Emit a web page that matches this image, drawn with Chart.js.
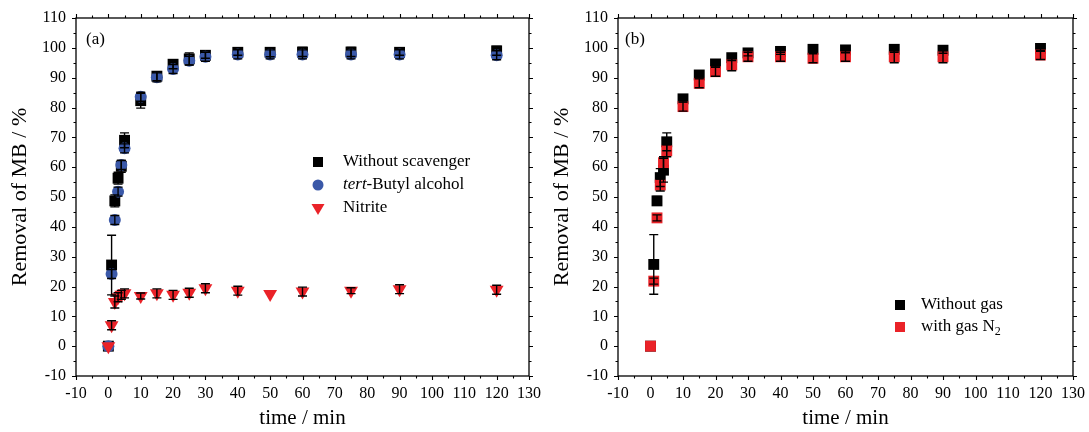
<!DOCTYPE html>
<html>
<head>
<meta charset="utf-8">
<script src="https://cdn.jsdelivr.net/npm/chart.js@4.4.0/dist/chart.umd.min.js"></script>
<style>
  body { margin: 0; background: #fff; }
  #wrap { position: relative; width: 1089px; height: 432px; overflow: hidden; }
  canvas { position: absolute; top: 0; }
</style>
</head>
<body>
<div id="wrap">
  <canvas id="panelA" style="left:0"></canvas>
  <canvas id="panelB" style="left:542px"></canvas>
</div>
<script>
// sampling times (min)
const times = [0, 1, 2, 3, 4, 5, 10, 15, 20, 25, 30, 40, 50, 60, 75, 90, 120];

// (a) scavenger tests
const noScavenger    = [0, 27.2, 48.7, 56.3, 60.3, 69.0, 82.3, 90.5, 94.5, 96.3, 97.5, 98.5, 98.5, 98.6, 98.6, 98.5, 99.0];
const noScavengerErr = [0, 10, 2, 2, 2, 2.5, 2.5, 1.5, 1.5, 2, 1, 1, 1.5, 1.5, 1.5, 1, 1.5];
const tertButyl      = [0, 24.2, 42.3, 51.8, 60.7, 66.3, 83.6, 90.1, 92.9, 95.7, 97.0, 97.8, 97.8, 97.8, 97.8, 97.8, 97.5];
const tertButylErr   = [0, 1.5, 1.5, 1.5, 1.5, 1.5, 1.5, 1.5, 1.5, 1.5, 1.5, 1.5, 1.5, 1.5, 1.5, 1.5, 1.5];
const nitrite        = [0, 7.0, 14.8, 16.4, 17.2, 17.7, 16.8, 17.7, 17.2, 17.9, 19.4, 18.6, 17.5, 18.3, 18.6, 19.1, 18.9];
const nitriteErr     = [0, 1.5, 2, 1.5, 1.5, 1.5, 1, 1.5, 1.5, 1.5, 1.5, 1.5, 0, 1.5, 1, 1.5, 1.5];

// (b) gas purging
const noGas          = [0, 27.4, 48.7, 56.5, 59.0, 68.5, 82.9, 90.9, 94.6, 96.7, 98.3, 98.8, 99.5, 99.3, 99.5, 99.2, 99.8];
const noGasErr       = [0, 10, 1.5, 3, 4, 3, 1, 1, 1, 1, 1, 1, 1, 1, 1, 1, 1];
const withN2         = [0, 21.8, 43.0, 54.0, 61.5, 65.5, 80.3, 88.1, 92.0, 94.3, 97.0, 97.0, 96.5, 97.0, 97.0, 97.0, 97.6];
const withN2Err      = [0, 1, 1, 2, 2, 2, 1.5, 1.5, 1.5, 2, 1.5, 1.5, 1.5, 1.5, 2, 2, 1.5];

const xTicks = {min: -10, max: 130, step: 10};
const yTicks = {min: -10, max: 110, step: 10};

const BLACK = '#000000';
const BLUE = '#3a58a8';
const RED = '#ea2228';
const SERIF = "'Liberation Serif', 'Times New Roman', serif";

Chart.defaults.font.family = SERIF;
Chart.defaults.color = '#000';

function pts(vals) {
  return times.map((t, i) => ({x: t, y: vals[i]}));
}

function drawMarker(ctx, style, color, x, y) {
  ctx.fillStyle = color;
  ctx.beginPath();
  if (style === 'rect') {
    ctx.rect(x - 5, y - 5, 10, 10);
  } else if (style === 'circle') {
    ctx.arc(x, y, 5.5, 0, Math.PI * 2);
  } else {
    // downward triangle
    ctx.moveTo(x - 6.5, y - 4);
    ctx.lineTo(x + 6.5, y - 4);
    ctx.lineTo(x, y + 7);
    ctx.closePath();
  }
  ctx.fill();
}

// error bars, drawn on top of every marker
const errorBars = {
  id: 'errorBars',
  afterDatasetsDraw(chart) {
    const ctx = chart.ctx;
    const y = chart.scales.y;
    ctx.save();
    ctx.strokeStyle = '#000';
    ctx.lineWidth = 1.4;
    chart.data.datasets.forEach((ds, i) => {
      const meta = chart.getDatasetMeta(i);
      meta.data.forEach((el, j) => {
        const e = ds.errors[j];
        if (!e) return;
        const v = ds.data[j].y;
        const top = y.getPixelForValue(v + e);
        const bot = y.getPixelForValue(v - e);
        ctx.beginPath();
        ctx.moveTo(el.x, top); ctx.lineTo(el.x, bot);
        ctx.moveTo(el.x - 4.5, top); ctx.lineTo(el.x + 4.5, top);
        ctx.moveTo(el.x - 4.5, bot); ctx.lineTo(el.x + 4.5, bot);
        ctx.stroke();
      });
    });
    ctx.restore();
  }
};

// box frame plus major / minor ticks on all four sides
const frameTicks = {
  id: 'frameTicks',
  afterDraw(chart) {
    const {ctx, chartArea: a, scales: {x, y}} = chart;
    ctx.save();
    ctx.strokeStyle = '#000';
    ctx.lineWidth = 1.3;
    ctx.strokeRect(a.left, a.top, a.right - a.left, a.bottom - a.top);
    ctx.beginPath();
    for (let v = xTicks.min; v <= xTicks.max; v += xTicks.step / 2) {
      const px = Math.round(x.getPixelForValue(v)) + 0.5;
      const len = v % xTicks.step === 0 ? 4 : 2.5;
      ctx.moveTo(px, a.bottom); ctx.lineTo(px, a.bottom + len);
      ctx.moveTo(px, a.top); ctx.lineTo(px, a.top - len);
    }
    for (let v = yTicks.min; v <= yTicks.max; v += yTicks.step / 2) {
      const py = Math.round(y.getPixelForValue(v)) + 0.5;
      const len = v % yTicks.step === 0 ? 4 : 2.5;
      ctx.moveTo(a.left, py); ctx.lineTo(a.left - len, py);
      ctx.moveTo(a.right, py); ctx.lineTo(a.right + len, py);
    }
    ctx.lineWidth = 1.1;
    ctx.stroke();
    ctx.restore();
  }
};

// in-plot key and panel letter
const keyBox = {
  id: 'keyBox',
  afterDraw(chart, args, opts) {
    const ctx = chart.ctx;
    ctx.save();
    ctx.textBaseline = 'middle';
    ctx.fillStyle = '#000';
    ctx.font = '17px ' + SERIF;
    ctx.fillText(opts.panel, opts.panelX, opts.panelY);
    opts.rows.forEach(row => {
      drawMarker(ctx, row.marker, row.color, opts.x, row.y);
      let tx = opts.x + opts.gap;
      row.parts.forEach(p => {
        const size = p.sub ? 12 : 17;
        ctx.font = (p.italic ? 'italic ' : '') + size + 'px ' + SERIF;
        ctx.fillStyle = '#000';
        ctx.fillText(p.text, tx, row.y + (p.sub ? 5 : 0));
        tx += ctx.measureText(p.text).width;
      });
    });
    ctx.restore();
  }
};

function makeChart(id, width, padRight, datasets, key) {
  const canvas = document.getElementById(id);
  canvas.width = width;
  canvas.height = 432;
  canvas.style.width = width + 'px';
  canvas.style.height = '432px';
  return new Chart(canvas.getContext('2d'), {
    type: 'scatter',
    data: {datasets: datasets},
    plugins: [errorBars, frameTicks, keyBox],
    options: {
      responsive: false,
      animation: false,
      layout: {padding: {top: 18, right: padRight, left: 0, bottom: 0}},
      plugins: {
        legend: {display: false},
        tooltip: {enabled: false},
        keyBox: key
      },
      scales: {
        x: {
          type: 'linear',
          min: xTicks.min, max: xTicks.max,
          afterFit: s => { s.height = 56; },
          border: {display: false},
          grid: {drawOnChartArea: false, drawTicks: true, tickLength: 4, tickColor: 'rgba(0,0,0,0)'},
          ticks: {stepSize: xTicks.step, autoSkip: false, maxRotation: 0, padding: 4, font: {size: 16}, color: '#000'},
          title: {display: true, text: 'time / min', font: {size: 21}, color: '#000', padding: {top: 0, bottom: 1}}
        },
        y: {
          type: 'linear',
          min: yTicks.min, max: yTicks.max,
          afterFit: s => { s.width = 76; },
          border: {display: false},
          grid: {drawOnChartArea: false, drawTicks: true, tickLength: 4, tickColor: 'rgba(0,0,0,0)'},
          ticks: {stepSize: yTicks.step, autoSkip: false, padding: 6, font: {size: 16}, color: '#000'},
          title: {display: true, text: 'Removal of MB / %', font: {size: 22}, color: '#000', padding: {top: 7, bottom: 0}}
        }
      }
    }
  });
}

document.addEventListener('DOMContentLoaded', function () {
  makeChart('panelA', 545, 12, [
    {label: 'Without scavenger', data: pts(noScavenger), errors: noScavengerErr, order: 3,
     pointStyle: 'rect', pointRadius: 7.7, backgroundColor: BLACK, borderWidth: 0},
    {label: 'tert-Butyl alcohol', data: pts(tertButyl), errors: tertButylErr, order: 2,
     pointStyle: 'circle', pointRadius: 6, backgroundColor: BLUE, borderWidth: 0},
    {label: 'Nitrite', data: pts(nitrite), errors: nitriteErr, order: 1,
     pointStyle: 'triangle', rotation: 180, pointRadius: 8, backgroundColor: RED, borderWidth: 0}
  ], {
    panel: '(a)', panelX: 86, panelY: 40,
    x: 318, gap: 25,
    rows: [
      {marker: 'rect', color: BLACK, y: 162, parts: [{text: 'Without scavenger'}]},
      {marker: 'circle', color: BLUE, y: 185, parts: [{text: 'tert', italic: true}, {text: '-Butyl alcohol'}]},
      {marker: 'tri', color: RED, y: 208, parts: [{text: 'Nitrite'}]}
    ]
  });

  makeChart('panelB', 547, 14, [
    {label: 'Without gas', data: pts(noGas), errors: noGasErr, order: 2,
     pointStyle: 'rect', pointRadius: 7.7, backgroundColor: BLACK, borderWidth: 0},
    {label: 'with gas N2', data: pts(withN2), errors: withN2Err, order: 1,
     pointStyle: 'rect', pointRadius: 7.7, backgroundColor: RED, borderWidth: 0}
  ], {
    panel: '(b)', panelX: 83, panelY: 40,
    x: 358, gap: 21,
    rows: [
      {marker: 'rect', color: BLACK, y: 305, parts: [{text: 'Without gas'}]},
      {marker: 'rect', color: RED, y: 327, parts: [{text: 'with gas N'}, {text: '2', sub: true}]}
    ]
  });
});
</script>
</body>
</html>
